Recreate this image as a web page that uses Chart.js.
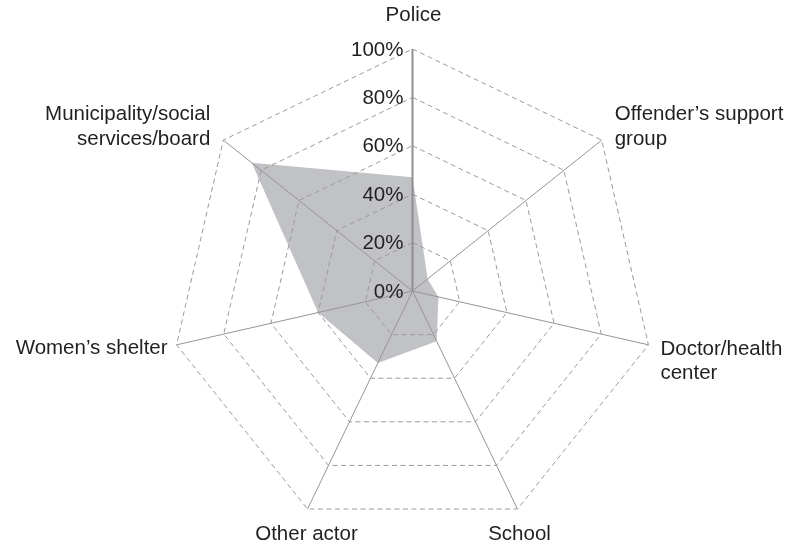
<!DOCTYPE html>
<html>
<head>
<meta charset="utf-8">
<style>
  html, body { margin: 0; padding: 0; background: #ffffff; }
  #wrap { width: 797px; height: 550px; }
</style>
<script src="https://cdn.jsdelivr.net/npm/chart.js@4/dist/chart.umd.min.js"></script>
</head>
<body>
<div id="wrap"><canvas id="radar" width="797" height="550"></canvas></div>
<script>
// Actors contacted, clockwise from the top
const categories = [
  'Police',
  ["Offender\u2019s support", 'group'],
  ['Doctor/health', 'center'],
  'School',
  'Other actor',
  'Women\u2019s shelter',
  ['Municipality/social', 'services/board']
];
// Share of cases (%)
const shares = [47, 8, 11, 23, 33, 40, 85];
// Radial axis ticks
const tickValues = [0, 20, 40, 60, 80, 100];
const tickLabels = ['0%', '20%', '40%', '60%', '80%', '100%'];

const FONT = '"Liberation Sans", Arial, Helvetica, sans-serif';
const FONT_SIZE = 20.5;
const TEXT = '#231f20';

// Fixed geometry of the radial scale
const CENTER_X = 412.5, CENTER_Y = 291, RADIUS = 242;

// Per-label placement relative to the outer end of each spoke
const labelPlacement = [
  { align: 'center', dx: 1,   dy: -33.5, anchorLine: 'last'  },
  { align: 'left',   dx: 13,  dy: -1,    anchorLine: 'last'  },
  { align: 'left',   dx: 12,  dy: 4,     anchorLine: 'first' },
  { align: 'center', dx: 2,   dy: 25,    anchorLine: 'first' },
  { align: 'center', dx: -1,  dy: 25,    anchorLine: 'first' },
  { align: 'right',  dx: -9,  dy: 3.5,   anchorLine: 'first' },
  { align: 'right',  dx: -13, dy: -1,    anchorLine: 'last'  }
];

const labelsPlugin = {
  id: 'radarText',
  afterDraw(chart) {
    const scale = chart.scales.r;
    const ctx = chart.ctx;
    ctx.save();
    ctx.font = FONT_SIZE + 'px ' + FONT;
    ctx.fillStyle = TEXT;
    ctx.textBaseline = 'middle';

    // spoke labels
    const lineH = 24.6;
    categories.forEach((cat, i) => {
      const lines = Array.isArray(cat) ? cat : [cat];
      const p = scale.getPointPosition(i, scale.drawingArea);
      const pl = labelPlacement[i];
      ctx.textAlign = pl.align;
      let y0 = p.y + pl.dy;
      if (pl.anchorLine === 'last') y0 -= (lines.length - 1) * lineH;
      lines.forEach((ln, k) => ctx.fillText(ln, p.x + pl.dx, y0 + k * lineH));
    });

    // value ticks along the first spoke
    ctx.textAlign = 'right';
    tickValues.forEach((v, k) => {
      const d = scale.getDistanceFromCenterForValue(v);
      ctx.fillText(tickLabels[k], scale.xCenter - 9, scale.yCenter - d + 1);
    });
    ctx.restore();
  }
};

new Chart(document.getElementById('radar'), {
  type: 'radar',
  data: {
    labels: categories,
    datasets: [{
      data: shares,
      fill: true,
      backgroundColor: '#c1c2c5',
      borderWidth: 0,
      borderColor: 'rgba(0,0,0,0)',
      pointRadius: 0,
      pointHoverRadius: 0
    }]
  },
  options: {
    responsive: false,
    devicePixelRatio: 1,
    animation: false,
    layout: { padding: 0 },
    plugins: {
      legend: { display: false },
      tooltip: { enabled: false }
    },
    elements: { line: { tension: 0 } },
    scales: {
      r: {
        min: 0,
        max: 100,
        beginAtZero: true,
        ticks: { display: false, stepSize: 20 },
        pointLabels: { display: false },
        grid: {
          z: 1,
          circular: false,
          color: '#9b9b9b',
          lineWidth: 1
        },
        // dashed web rings
        border: { dash: [5, 3.5], dashOffset: 0 },
        angleLines: {
          display: true,
          color: (ctx) => ctx.index === 0 ? '#8f8f8f' : '#959595',
          lineWidth: (ctx) => ctx.index === 0 ? 2 : 1
        },
        afterFit(scale) {
          scale.xCenter = CENTER_X;
          scale.yCenter = CENTER_Y;
          scale.drawingArea = RADIUS;
        }
      }
    }
  },
  plugins: [labelsPlugin]
});
</script>
</body>
</html>
